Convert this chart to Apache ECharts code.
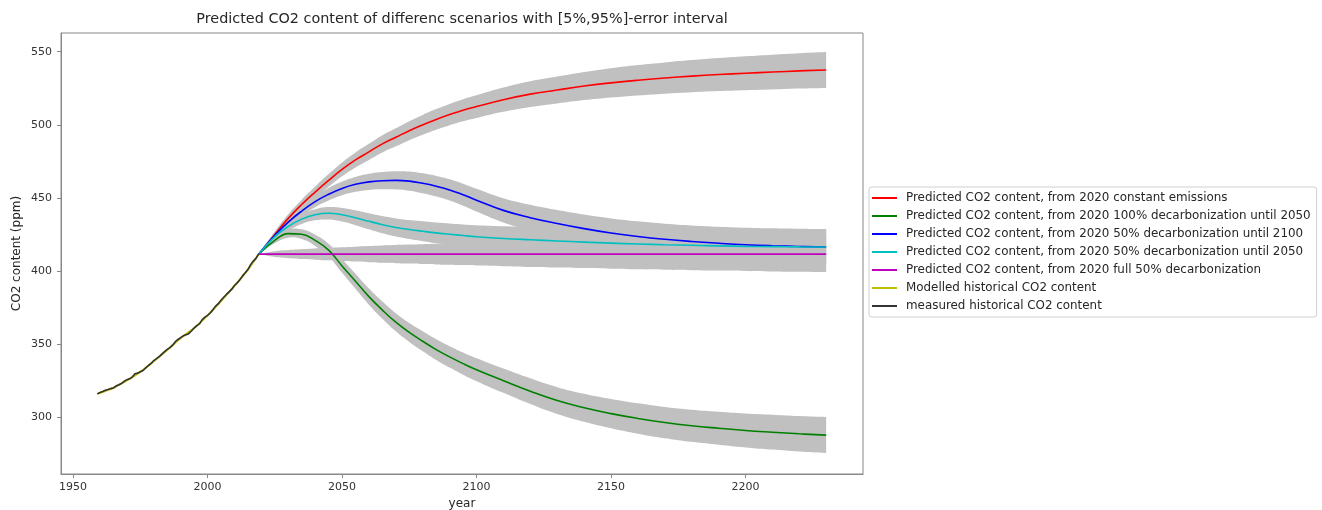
<!DOCTYPE html>
<html>
<head>
<meta charset="utf-8">
<script src="https://cdn.jsdelivr.net/npm/echarts@6/dist/echarts.min.js"></script>
<style>html,body{margin:0;padding:0;background:#fff}#c{width:1322px;height:510px}</style>
</head>
<body>
<div id="c"></div>
<script>
// ---- data ----
const histYears = [1959,1960,1961,1962,1963,1964,1965,1966,1967,1968,1969,1970,1971,1972,1973,1974,1975,1976,1977,1978,1979,1980,1981,1982,1983,1984,1985,1986,1987,1988,1989,1990,1991,1992,1993,1994,1995,1996,1997,1998,1999,2000,2001,2002,2003,2004,2005,2006,2007,2008,2009,2010,2011,2012,2013,2014,2015,2016,2017,2018,2019];
const measured = [316.0,316.9,317.6,318.5,319.0,319.6,320.0,321.4,322.2,323.1,324.6,325.7,326.3,327.5,329.7,330.2,331.1,332.0,333.8,335.4,336.8,338.8,340.1,341.5,343.2,344.9,346.4,347.6,349.3,351.7,353.2,354.5,355.7,356.5,357.2,359.0,361.0,362.7,363.9,366.8,368.5,369.7,371.3,373.5,376.0,377.7,380.0,382.1,384.0,385.8,387.6,390.1,391.9,394.1,396.7,398.8,401.0,404.4,406.8,408.7,411.7];
const modelYears = [1959,1965,1970,1975,1980,1985,1990,1995,2000,2005,2010,2015,2019];
const modelled = [316.0,320.2,325.2,331.0,338.3,346.0,354.2,361.0,369.7,379.5,389.8,401.0,411.5];

const projYears = [2019,2025,2030,2035,2040,2045,2050,2055,2060,2065,2070,2075,2080,2085,2090,2095,2100,2110,2120,2130,2140,2150,2160,2170,2180,2190,2200,2210,2220,2230];
const constEmissions = [411.5,425,436,445.5,454,462,469.5,476,481.5,487,491.5,496,500,503.7,507,510,512.5,517.2,521,523.8,526.5,528.7,530.5,532,533.3,534.4,535.3,536.1,536.9,537.5];
const decarb100_2050 = [411.5,421,425.6,425.2,421,414.3,403.5,393,382.5,373.3,365,358,352,346.3,341.3,336.7,332.5,325,317.8,311.4,306.5,302.5,299.2,296.4,294.2,292.5,291,289.8,288.7,287.8];
const decarb50_2100 = [411.5,424.5,433.5,441,447.5,452.5,456.5,459.3,461,461.8,462,461.5,460,458,455.5,452.2,448.5,441.5,436.5,432.5,429,426,423.6,421.7,420.2,419,418,417.3,416.8,416.4];
const decarb50_2050 = [411.5,423.5,430.5,435.5,438.5,439.5,438.5,436.5,434,431.7,429.8,428.4,427.2,426.1,425.2,424.3,423.5,422.3,421.4,420.6,419.8,419.1,418.5,418,417.6,417.2,416.9,416.7,416.5,416.4];
const fullDecarb50 = [411.6,411.6,411.6,411.6,411.6,411.6,411.6,411.6,411.6,411.6,411.6,411.6,411.6,411.6,411.6,411.6,411.6,411.6,411.6,411.6,411.6,411.6,411.6,411.6,411.6,411.6,411.6,411.6,411.6,411.6];
// half width of the [5%,95%] interval (ppm), same for every scenario
const errHalf = [0,2,2.8,3.3,3.8,4.3,4.7,5.1,5.5,5.9,6.2,6.5,6.8,7.05,7.3,7.55,7.8,8.3,8.8,9.2,9.6,10,10.4,10.7,11,11.3,11.6,11.9,12.1,12.3];

const xTicks = [1950,2000,2050,2100,2150,2200];
const yTicks = [300,350,400,450,500,550];

const scenarioNames = [
  'Predicted CO2 content, from 2020 constant emissions',
  'Predicted CO2 content, from 2020 100% decarbonization until 2050',
  'Predicted CO2 content, from 2020 50% decarbonization until 2100',
  'Predicted CO2 content, from 2020 50% decarbonization until 2050',
  'Predicted CO2 content, from 2020 full 50% decarbonization'
];
const modelName = 'Modelled historical CO2 content';
const measName = 'measured historical CO2 content';
// ---------------------------------------

const scenarios = [constEmissions, decarb100_2050, decarb50_2100, decarb50_2050, fullDecarb50];
const colors = ['#ff0000', '#008000', '#0000ff', '#00bfbf', '#bf00bf'];
const FONT = 'DejaVu Sans';
const SM = 0.45;

function bandSeries(vals) {
  return {
    type: 'custom', silent: true, z: 1, clip: true,
    data: projYears.map((y, k) => [y, vals[k] - errHalf[k], vals[k] + errHalf[k]]),
    encode: { x: 0, y: [1, 2] },
    renderItem: function (params, api) {
      if (params.dataIndex !== 0) return;
      const up = [], lo = [];
      for (let k = 0; k < projYears.length; k++) {
        up.push(api.coord([projYears[k], vals[k] + errHalf[k]]));
        lo.push(api.coord([projYears[k], vals[k] - errHalf[k]]));
      }
      const n = up.length - 1;
      const pts = up.concat([up[n].slice(), lo[n].slice()], lo.slice().reverse());
      return {
        type: 'polygon',
        shape: { points: pts, smooth: SM },
        style: { fill: '#c0c0c0', stroke: null }
      };
    }
  };
}

const series = [];
scenarios.forEach(vals => series.push(bandSeries(vals)));
scenarios.forEach((vals, i) => {
  series.push({
    name: scenarioNames[i], type: 'line', symbol: 'none', smooth: SM, z: 5, silent: true,
    color: colors[i], lineStyle: { color: colors[i], width: 1.6 },
    data: projYears.map((y, k) => [y, vals[k]])
  });
});
series.push({
  name: modelName, type: 'line', symbol: 'none', smooth: 0.3, z: 5, silent: true,
  color: '#bfbf00', lineStyle: { color: '#bfbf00', width: 2 },
  data: modelYears.map((y, k) => [y, modelled[k]])
});
series.push({
  name: measName, type: 'line', symbol: 'none', z: 6, silent: true,
  color: '#333333', lineStyle: { color: '#333333', width: 1.6 },
  data: histYears.map((y, k) => [y, measured[k]])
});

const chart = echarts.init(document.getElementById('c'), null, { renderer: 'canvas' });
chart.setOption({
  animation: false,
  backgroundColor: '#fff',
  textStyle: { fontFamily: FONT },
  title: {
    text: 'Predicted CO2 content of differenc scenarios with [5%,95%]-error interval',
    left: 462, top: 12, textAlign: 'center', padding: 0,
    textStyle: { fontFamily: FONT, fontSize: 14.4, fontWeight: 'normal', color: '#262626' }
  },
  grid: {
    left: 61, top: 33, width: 802, height: 441, containLabel: false, outerBoundsMode: 'none',
    show: true, borderColor: '#888', borderWidth: 1, backgroundColor: 'transparent'
  },
  legend: {
    orient: 'vertical', left: 869, top: 187,
    padding: [4, 6, 4, 3], itemGap: 4, itemWidth: 25, itemHeight: 2,
    icon: 'rect', borderColor: '#d0d0d0', borderWidth: 1, borderRadius: 3,
    backgroundColor: '#fff',
    selectedMode: false,
    data: [scenarioNames[0], scenarioNames[1], scenarioNames[2], scenarioNames[3], scenarioNames[4], modelName, measName],
    textStyle: { fontFamily: FONT, fontSize: 11.9, color: '#262626', lineHeight: 14, padding: [0, 0, 0, 4] }
  },
  xAxis: {
    type: 'value', min: 1945.5, max: 2243.7,
    name: 'year', nameLocation: 'middle', nameGap: 24, nameMoveOverlap: false,
    nameTextStyle: { fontFamily: FONT, fontSize: 12, color: '#262626' },
    axisLine: { show: true, lineStyle: { color: '#888', width: 1 } },
    axisTick: { show: true, length: 4, lineStyle: { color: '#888' }, customValues: xTicks },
    axisLabel: { fontFamily: FONT, fontSize: 11, color: '#333', margin: 8, customValues: xTicks,
                 formatter: v => String(v) },
    splitLine: { show: false }
  },
  yAxis: {
    type: 'value', min: 261.2, max: 562.8,
    name: 'CO2 content (ppm)', nameLocation: 'middle', nameGap: 38, nameRotate: 90, nameMoveOverlap: false,
    nameTextStyle: { fontFamily: FONT, fontSize: 12, color: '#262626' },
    axisLine: { show: true, lineStyle: { color: '#888', width: 1 } },
    axisTick: { show: true, length: 4, lineStyle: { color: '#888' }, customValues: yTicks },
    axisLabel: { fontFamily: FONT, fontSize: 11, color: '#333', margin: 9, customValues: yTicks,
                 formatter: v => String(v) },
    splitLine: { show: false }
  },
  series: series
});
</script>
</body>
</html>
